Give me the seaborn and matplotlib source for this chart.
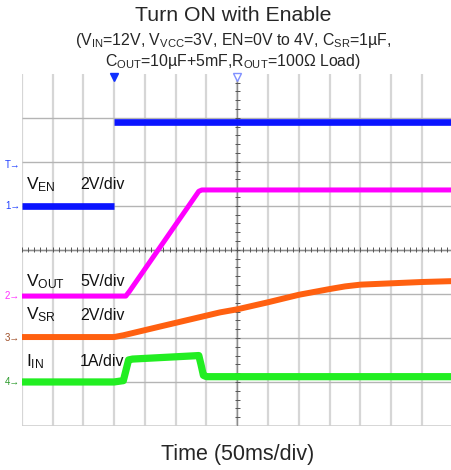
import numpy as np
import pandas as pd
import matplotlib
matplotlib.use("Agg")
import matplotlib.pyplot as plt
import seaborn as sns

# scope traces, time and level in divisions (x: 0..14, y: 0..8)
EN_T = [0.0, 3.0, 3.0, 14.0]
EN_V = [5.0, 5.0, 6.9, 6.9]
EN_SEG = [0, 0, 1, 1]

VOUT_T = [0.0, 3.38, 3.5, 5.75, 5.85, 14.0]
VOUT_V = [2.95, 2.95, 3.06, 5.33, 5.36, 5.36]

VSR_T = [0.0, 3.0, 3.3, 4.5, 6.44, 7.0, 8.0, 9.0, 10.0, 10.5, 11.0, 12.0, 13.0, 14.0]
VSR_V = [2.02, 2.02, 2.06, 2.26, 2.58, 2.65, 2.81, 2.98, 3.11, 3.17, 3.21, 3.24, 3.27, 3.29]

IIN_T = [0.0, 3.0, 3.3, 3.38, 3.47, 3.6, 5.5, 5.75, 5.82, 5.9, 6.0, 14.0]
IIN_V = [1.0, 1.0, 1.03, 1.25, 1.50, 1.52, 1.59, 1.60, 1.40, 1.15, 1.12, 1.12]

LABELS = [r"V$_\mathrm{EN}$", r"V$_\mathrm{OUT}$", r"V$_\mathrm{SR}$", r"I$_\mathrm{IN}$"]
SCALES = ["2V/div", "5V/div", "2V/div", "1A/div"]
LABEL_Y = [5.48, 3.28, 2.52, 1.46]

MARKERS = ["T", "1", "2", "3", "4"]
MARKER_Y = [5.93, 5.0, 2.95, 2.0, 1.0]
MARKER_COLORS = ["#2040ff", "#2040ff", "#ff30ff", "#a0502a", "#2a9a2a"]

sns.set_style("white")
plt.rcParams["font.family"] = ["Liberation Sans", "DejaVu Sans"]
plt.rcParams["mathtext.fontset"] = "custom"
plt.rcParams["mathtext.rm"] = "Liberation Sans"
plt.rcParams["mathtext.it"] = "Liberation Sans"

fig = plt.figure(figsize=(4.51, 4.70), dpi=100)
ax = fig.add_axes([21.7 / 451, 44 / 470, 431.2 / 451, 352.3 / 470])

# graticule
ax.vlines(np.arange(0, 14), 0, 8, color="#d6d6d6", lw=1.6, zorder=0)
ax.hlines(np.arange(1, 8), 0, 14, color="#b4b4b4", lw=1.0, zorder=0)
ax.hlines(0, 0, 14, color="#cfcfcf", lw=1.2, zorder=0)
ax.vlines(7, 0, 8, color="#8c8c8c", lw=1.0, zorder=1)
ax.hlines(4, 0, 14, color="#8c8c8c", lw=1.0, zorder=1)
xt = np.arange(0, 14.01, 0.2)
ax.vlines(xt, 4 - 0.06, 4 + 0.06, color="#555555", lw=0.7, zorder=1)
yt = np.arange(0, 8.01, 0.2)
ax.hlines(yt, 7 - 0.085, 7 + 0.085, color="#555555", lw=0.7, zorder=1)

# traces
kw = dict(sort=False, ax=ax, solid_capstyle="butt", solid_joinstyle="round")
en = pd.DataFrame({"t": EN_T, "v": EN_V, "seg": EN_SEG})
sns.lineplot(data=en, x="t", y="v", units="seg", estimator=None,
             color="#0a14ff", lw=4.8, **kw)
sns.lineplot(x=VOUT_T, y=VOUT_V, color="#ff00ff", lw=3.6, **kw)
sns.lineplot(x=VSR_T, y=VSR_V, color="#ff6010", lw=4.3, **kw)
sns.lineplot(x=IIN_T, y=IIN_V, color="#22ee22", lw=5.2, **kw)
ax.set_xlim(0, 14)
ax.set_ylim(0, 8)
ax.axis("off")

# trace labels
for lab, sc, y in zip(LABELS, SCALES, LABEL_Y):
    ax.text(0.14, y, lab, fontsize=12.5, va="center", ha="left", color="#111111")
    ax.text(1.89, y, sc, fontsize=11.5, va="center", ha="left", color="#111111")

# channel markers on the left
for m, y, c in zip(MARKERS, MARKER_Y, MARKER_COLORS):
    ax.text(-0.05, y, m + "\u2192", fontsize=7, va="center", ha="right",
            color=c, clip_on=False)

# trigger markers at the top
ax.plot([3.0], [7.93], marker="v", color="#1030ff", ms=6, clip_on=False)
ax.plot([7.0], [7.93], marker="v", mfc="white", mec="#8090ff", ms=6, clip_on=False)

fig.text(0.517, 0.966, "Turn ON with Enable", fontsize=15.3, ha="center", va="center")
fig.text(0.517, 0.913, r"(V$_\mathrm{IN}$=12V, V$_\mathrm{VCC}$=3V, EN=0V to 4V, C$_\mathrm{SR}$=1µF,",
         fontsize=11.4, ha="center", va="center")
fig.text(0.517, 0.869, r"C$_\mathrm{OUT}$=10µF+5mF,R$_\mathrm{OUT}$=100Ω Load)",
         fontsize=11.4, ha="center", va="center")
fig.text(0.526, 0.032, "Time (50ms/div)", fontsize=15.5, ha="center", va="center")

fig.savefig("out.png", dpi=100)
